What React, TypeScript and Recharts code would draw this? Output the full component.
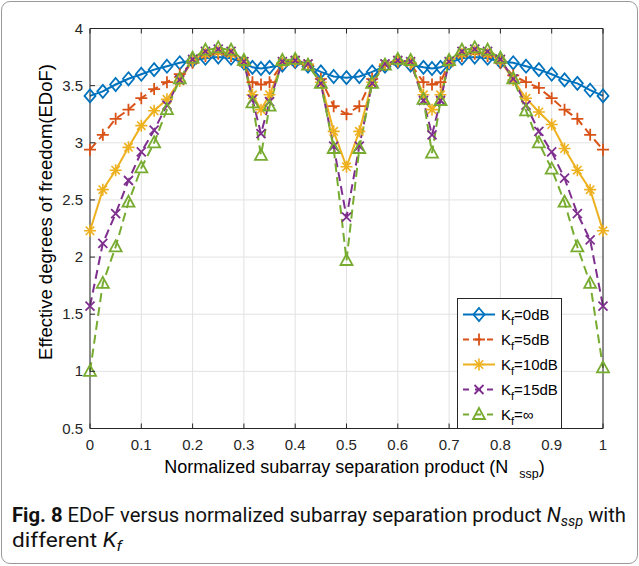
import React from "react";
import { LineChart, Line, XAxis, YAxis, CartesianGrid, Legend } from "recharts";

// normalized subarray separation product (extra points around 1/3 and 2/3)
const nssp = [
  0, 0.025, 0.05, 0.075, 0.1, 0.125, 0.15, 0.175, 0.2, 0.225, 0.25, 0.275, 0.3,
  0.3167, 0.3333, 0.35, 0.375, 0.4, 0.425, 0.45, 0.475, 0.5, 0.525, 0.55, 0.575,
  0.6, 0.625, 0.65, 0.6667, 0.6833, 0.7, 0.725, 0.75, 0.775, 0.8, 0.825, 0.85,
  0.875, 0.9, 0.925, 0.95, 0.975, 1,
];

const kf0dB = [
  3.41, 3.45, 3.51, 3.56, 3.6, 3.64, 3.67, 3.7, 3.72, 3.74, 3.75, 3.74, 3.7,
  3.66, 3.65, 3.66, 3.68, 3.71, 3.67, 3.62, 3.58, 3.57, 3.58, 3.62, 3.67,
  3.71, 3.68, 3.66, 3.65, 3.66, 3.7, 3.74, 3.75, 3.74, 3.71, 3.7, 3.67,
  3.64, 3.6, 3.55, 3.52, 3.46, 3.41,
];

const kf5dB = [
  2.94, 3.07, 3.21, 3.29, 3.39, 3.47, 3.53, 3.6, 3.7, 3.76, 3.78, 3.76, 3.7,
  3.53, 3.51, 3.53, 3.69, 3.71, 3.68, 3.56, 3.32, 3.25, 3.32, 3.56, 3.68,
  3.71, 3.69, 3.53, 3.51, 3.53, 3.7, 3.76, 3.78, 3.76, 3.7, 3.59, 3.53,
  3.48, 3.39, 3.29, 3.21, 3.07, 2.94,
];

const kf10dB = [
  2.23, 2.59, 2.76, 2.96, 3.15, 3.28, 3.38, 3.54, 3.72, 3.78, 3.8, 3.78, 3.7,
  3.42, 3.29, 3.42, 3.7, 3.72, 3.69, 3.53, 3.1, 2.79, 3.1, 3.53, 3.69,
  3.72, 3.7, 3.42, 3.29, 3.42, 3.7, 3.78, 3.8, 3.78, 3.72, 3.55, 3.39,
  3.27, 3.16, 2.95, 2.76, 2.59, 2.23,
];

const kf15dB = [
  1.57, 2.12, 2.38, 2.67, 2.92, 3.11, 3.33, 3.55, 3.73, 3.8, 3.82, 3.8, 3.71,
  3.38, 3.08, 3.36, 3.71, 3.72, 3.69, 3.52, 2.97, 2.35, 2.97, 3.52, 3.69,
  3.72, 3.71, 3.37, 3.07, 3.37, 3.71, 3.8, 3.82, 3.8, 3.73, 3.56, 3.33,
  3.1, 2.92, 2.69, 2.38, 2.15, 1.57,
];

const kfInf = [
  1.0, 1.77, 2.09, 2.48, 2.78, 3.0, 3.29, 3.56, 3.74, 3.81, 3.83, 3.81, 3.72,
  3.35, 2.89, 3.32, 3.72, 3.73, 3.68, 3.52, 2.95, 1.97, 2.95, 3.52, 3.68,
  3.73, 3.72, 3.38, 2.91, 3.37, 3.72, 3.81, 3.83, 3.81, 3.74, 3.56, 3.28,
  3.0, 2.77, 2.48, 2.09, 1.77, 1.03,
];

const xTicks = [0, 0.1, 0.2, 0.3, 0.4, 0.5, 0.6, 0.7, 0.8, 0.9, 1];
const yTicks = [0.5, 1, 1.5, 2, 2.5, 3, 3.5, 4];
const xTickLabels = ["0", "0.1", "0.2", "0.3", "0.4", "0.5", "0.6", "0.7", "0.8", "0.9", "1"];
const yTickLabels = ["0.5", "1", "1.5", "2", "2.5", "3", "3.5", "4"];
const legendLabels = ["=0dB", "=5dB", "=10dB", "=15dB", "=\u221e"];

const data = nssp.map((x, i) => ({
  x,
  k0: kf0dB[i],
  k5: kf5dB[i],
  k10: kf10dB[i],
  k15: kf15dB[i],
  kinf: kfInf[i],
}));

const AXIS = "#262626";
const FONT = "'Liberation Sans', Arial, sans-serif";

type MarkerKind = "diamond" | "plus" | "star" | "cross" | "triangle";

function Marker({ kind, cx, cy, color }: { kind: MarkerKind; cx: number; cy: number; color: string }) {
  const sw = 1.8;
  if (kind === "diamond")
    return <path d={`M${cx},${cy - 6.5}L${cx + 5.5},${cy}L${cx},${cy + 6.5}L${cx - 5.5},${cy}Z`} fill="none" stroke={color} strokeWidth={sw} />;
  if (kind === "plus")
    return <path d={`M${cx - 6},${cy}H${cx + 6}M${cx},${cy - 6}V${cy + 6}`} stroke={color} strokeWidth={sw} />;
  if (kind === "cross")
    return <path d={`M${cx - 4.5},${cy - 4.5}L${cx + 4.5},${cy + 4.5}M${cx - 4.5},${cy + 4.5}L${cx + 4.5},${cy - 4.5}`} stroke={color} strokeWidth={sw} />;
  if (kind === "star")
    return (
      <path
        d={`M${cx - 6},${cy}H${cx + 6}M${cx},${cy - 6}V${cy + 6}M${cx - 4.2},${cy - 4.2}L${cx + 4.2},${cy + 4.2}M${cx - 4.2},${cy + 4.2}L${cx + 4.2},${cy - 4.2}`}
        stroke={color}
        strokeWidth={1.6}
      />
    );
  return <path d={`M${cx},${cy - 6.5}L${cx + 6},${cy + 4.5}L${cx - 6},${cy + 4.5}Z`} fill="none" stroke={color} strokeWidth={sw} />;
}

const series = [
  { key: "k0", color: "#0072BD", marker: "diamond" as MarkerKind, dash: undefined },
  { key: "k5", color: "#D95319", marker: "plus" as MarkerKind, dash: "9 5" },
  { key: "k10", color: "#EDB120", marker: "star" as MarkerKind, dash: undefined },
  { key: "k15", color: "#7E2F8E", marker: "cross" as MarkerKind, dash: "9 5" },
  { key: "kinf", color: "#77AC30", marker: "triangle" as MarkerKind, dash: "9 5" },
];

const BottomTick = (props: any) => {
  const { x, y, index } = props;
  return (
    <g>
      <line x1={x} x2={x} y1={y} y2={y - 5} stroke={AXIS} />
      <text x={x} y={y + 21} textAnchor="middle" fontSize={15} fill={AXIS} fontFamily={FONT}>
        {xTickLabels[index]}
      </text>
    </g>
  );
};

const TopTick = (props: any) => {
  const { x, y } = props;
  return <line x1={x} x2={x} y1={y} y2={y + 5} stroke={AXIS} />;
};

const LeftTick = (props: any) => {
  const { x, y, index } = props;
  return (
    <g>
      <line x1={x} x2={x + 5} y1={y} y2={y} stroke={AXIS} />
      <text x={x - 7} y={y + 5} textAnchor="end" fontSize={15} fill={AXIS} fontFamily={FONT}>
        {yTickLabels[index]}
      </text>
    </g>
  );
};

const RightTick = (props: any) => {
  const { x, y } = props;
  return <line x1={x} x2={x - 5} y1={y} y2={y} stroke={AXIS} />;
};

const LegendBox = () => (
  <div style={{ width: 105, height: 131, border: `1px solid ${AXIS}`, background: "#fff", boxSizing: "border-box" }}>
    <svg width={103} height={129} style={{ display: "block" }}>
      {series.map((s, i) => {
        const cy = 15.5 + i * 25;
        return (
          <g key={s.key}>
            <line x1={5} x2={37} y1={cy} y2={cy} stroke={s.color} strokeWidth={2} strokeDasharray={s.dash ? "6 6" : undefined} />
            <Marker kind={s.marker} cx={21} cy={cy} color={s.color} />
            <text x={43} y={cy + 5.5} fontSize={15} fill="#000" fontFamily={FONT}>
              K
              <tspan fontSize={11} dy={5}>f</tspan>
              <tspan dy={-5}>{legendLabels[i]}</tspan>
            </text>
          </g>
        );
      })}
    </svg>
  </div>
);

const XLabel = (props: any) => {
  const { viewBox } = props;
  const cx = viewBox.x + viewBox.width / 2 + 8;
  return (
    <text x={cx} y={viewBox.y + 44} textAnchor="middle" fontSize={18} fill="#000" fontFamily={FONT}>
      Normalized subarray separation product (N{" "}
      <tspan fontSize={12.5} dx={6} dy={5}>ssp</tspan>
      <tspan dy={-5}>)</tspan>
    </text>
  );
};

const YLabel = () => (
  <text x={0} y={0} transform="translate(52,212) rotate(-90)" textAnchor="middle" fontSize={18.5} fill="#000" fontFamily={FONT}>
    Effective degrees of freedom(EDoF)
  </text>
);

export default function App() {
  return (
    <div style={{ position: "absolute", left: 0, top: 0, width: 639, height: 566, background: "#fff" }}>
      <div
        style={{
          position: "absolute",
          left: 1,
          top: 1,
          width: 635,
          height: 561,
          border: "1px solid #9a9a9a",
          borderRadius: 9,
        }}
      />
      <div style={{ position: "absolute", left: 0, top: 0 }}>
        <LineChart width={639} height={480} data={data} margin={{ top: 0.5, right: 0, bottom: 0, left: 0 }}>
          <CartesianGrid stroke="#e2e2e2" strokeWidth={1} />
          <XAxis
            dataKey="x"
            type="number"
            domain={[0, 1]}
            ticks={xTicks}
            height={51.5}
            stroke={AXIS}
            tickLine={false}
            tickSize={0}
            tickMargin={0}
            tick={<BottomTick />}
            interval={0}
            label={<XLabel />}
          />
          <XAxis
            xAxisId="top"
            orientation="top"
            dataKey="x"
            type="number"
            domain={[0, 1]}
            ticks={xTicks}
            height={28}
            stroke={AXIS}
            tickLine={false}
            tickSize={0}
            tickMargin={0}
            tick={<TopTick />}
            interval={0}
          />
          <YAxis
            type="number"
            domain={[0.5, 4]}
            ticks={yTicks}
            width={90}
            stroke={AXIS}
            tickLine={false}
            tickSize={0}
            tickMargin={0}
            tick={<LeftTick />}
            interval={0}
            label={<YLabel />}
          />
          <YAxis
            yAxisId="right"
            orientation="right"
            type="number"
            domain={[0.5, 4]}
            ticks={yTicks}
            width={36}
            stroke={AXIS}
            tickLine={false}
            tickSize={0}
            tickMargin={0}
            tick={<RightTick />}
            interval={0}
          />
          {series.map((s) => (
            <Line
              key={s.key}
              dataKey={s.key}
              stroke={s.color}
              strokeWidth={2}
              strokeDasharray={s.dash}
              isAnimationActive={false}
              dot={(p: any) => (
                <g key={`${s.key}-${p.index}`}>
                  <Marker kind={s.marker} cx={p.cx} cy={p.cy} color={s.color} />
                </g>
              )}
              activeDot={false}
            />
          ))}
          <Legend
            layout="horizontal"
            verticalAlign="middle"
            align="center"
            content={<LegendBox />}
            wrapperStyle={{ position: "absolute", left: 457, top: 297.5, width: 105, height: 131, bottom: "auto" }}
          />
        </LineChart>
      </div>
      <svg style={{ position: "absolute", left: 0, top: 490 }} width={639} height={70}>
        <text x={12} y={32} fontSize={19.5} fill="#111" fontFamily="Roboto, sans-serif" textLength={614} lengthAdjust="spacingAndGlyphs">
          <tspan fontWeight="bold">Fig. 8</tspan> EDoF versus normalized subarray separation product{" "}
          <tspan fontStyle="italic">N</tspan>
          <tspan fontStyle="italic" fontSize={14} dy={4}>ssp</tspan>
          <tspan dy={-4}> with</tspan>
        </text>
        <text x={12} y={57} fontSize={19.5} fill="#111" fontFamily="Roboto, sans-serif" textLength={110} lengthAdjust="spacingAndGlyphs">
          different <tspan fontStyle="italic">K</tspan>
          <tspan fontStyle="italic" fontSize={14} dy={4}>f</tspan>
        </text>
      </svg>
    </div>
  );
}
